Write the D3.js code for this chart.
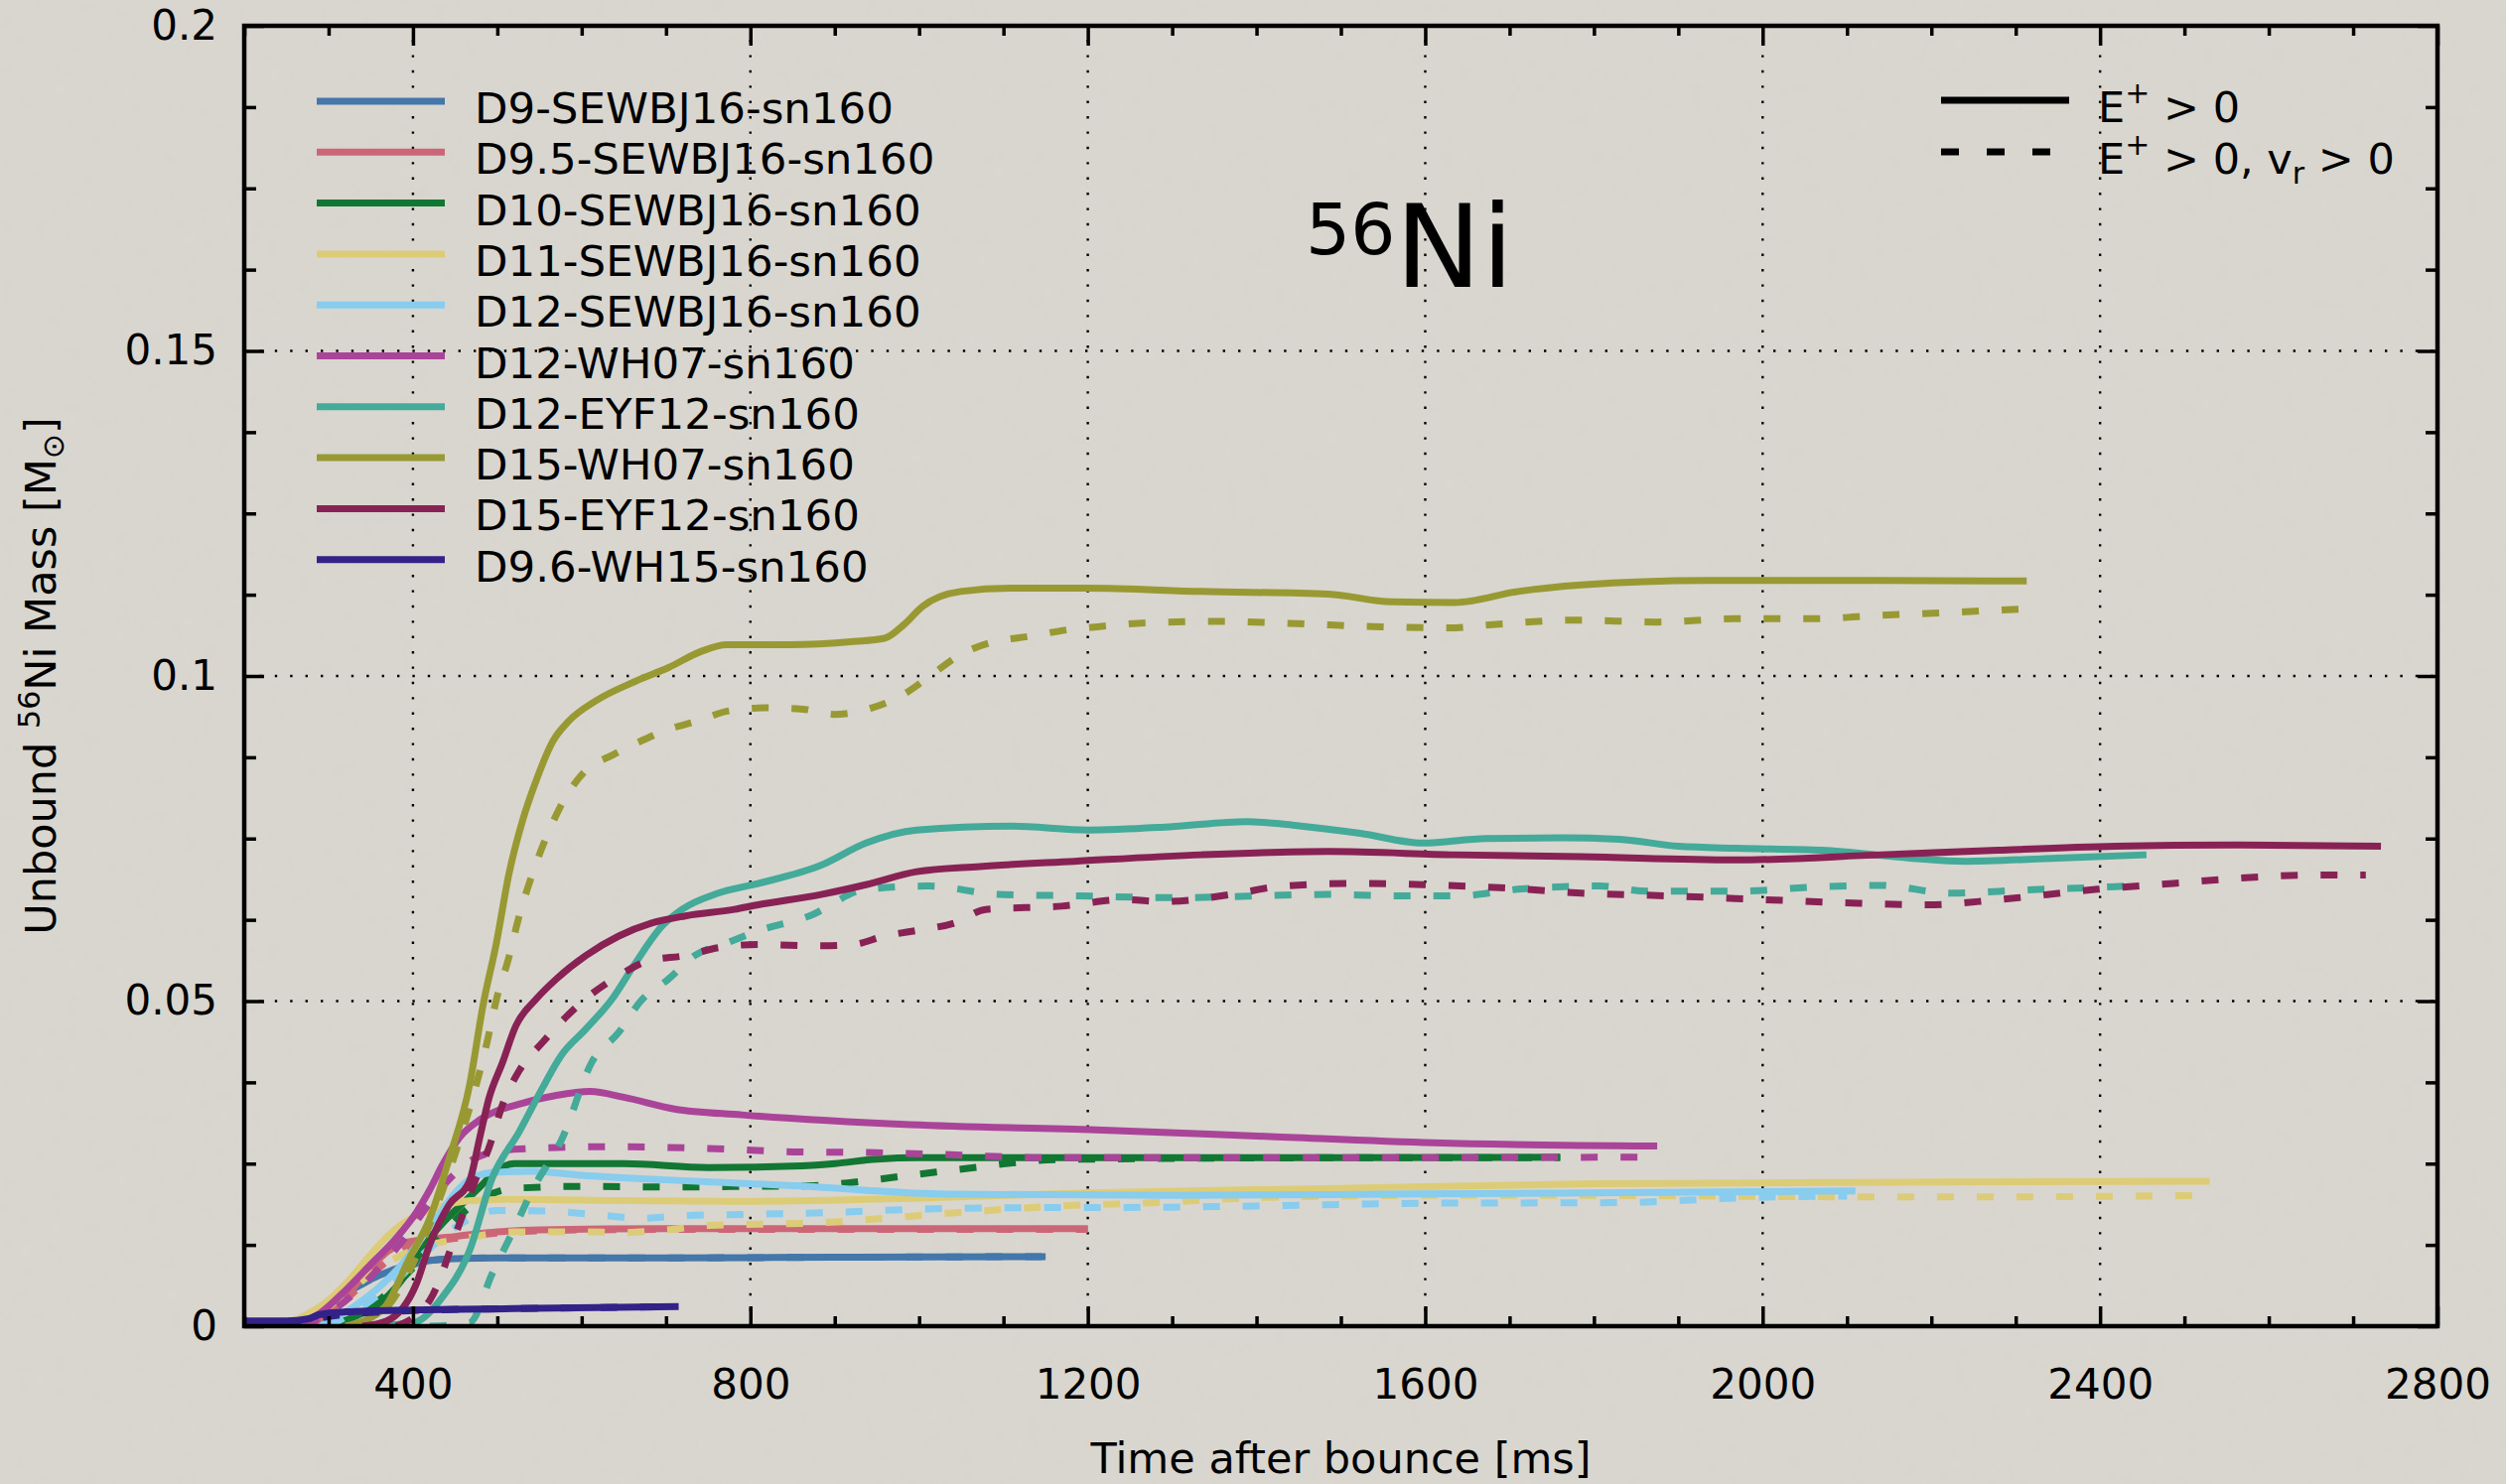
<!DOCTYPE html>
<html lang="en">
<head>
<meta charset="UTF-8">
<title>Unbound 56Ni mass</title>
<script src="https://d3js.org/d3.v7.min.js"></script>
<style>
    html, body { margin: 0; padding: 0; background: #d9d6cf; }
    svg { display: block; }
    text { font-family: "DejaVu Sans", Verdana, sans-serif; fill: #000; }
</style>
</head>
<body>
<svg id="chart" width="2524" height="1495"></svg>
<script>
// ---- data (time after bounce [ms], unbound 56Ni mass [Msun]) ----
const models = ["D9-SEWBJ16-sn160", "D9.5-SEWBJ16-sn160", "D10-SEWBJ16-sn160", "D11-SEWBJ16-sn160",
    "D12-SEWBJ16-sn160", "D12-WH07-sn160", "D12-EYF12-sn160", "D15-WH07-sn160",
    "D15-EYF12-sn160", "D9.6-WH15-sn160"];
const colors = ["#4477aa", "#cc6677", "#117733", "#ddcc77", "#88ccee",
    "#aa4499", "#44aa99", "#999933", "#882255", "#332288"];

const xTicks = [400, 800, 1200, 1600, 2000, 2400, 2800];
const yTicks = [0, 0.05, 0.1, 0.15, 0.2];

const d9Solid = [[250,0],[280,0.0015],[300,0.003],[320,0.005],[340,0.0065],[360,0.0078],[380,0.0088],
    [400,0.0095],[420,0.0101],[450,0.0104],[500,0.0105],[700,0.0105],[900,0.0106],[1150,0.0107]];
const d9Dash = [[250,0],[280,0.0015],[300,0.003],[320,0.005],[340,0.0065],[360,0.0078],[380,0.0088],
    [400,0.0095],[420,0.0101],[450,0.0104],[500,0.0105],[700,0.0105],[900,0.0106],[1150,0.0107]];

const d95Solid = [[270,0],[300,0.002],[330,0.006],[350,0.009],[370,0.0115],[390,0.0128],[420,0.0134],
    [450,0.0138],[500,0.0145],[550,0.0148],[700,0.015],[900,0.015],[1200,0.015]];
const d95Dash = [[280,0],[320,0.004],[360,0.009],[400,0.0125],[450,0.0135],[500,0.0143],[600,0.0148],
    [800,0.0149],[1200,0.0149]];

const d10Solid = [[300,0],[340,0.002],[360,0.0035],[380,0.006],[400,0.0095],[420,0.0135],[440,0.0165],
    [460,0.019],[480,0.0215],[500,0.024],[520,0.025],[650,0.025],[750,0.0244],[850,0.0246],[900,0.025],
    [950,0.0257],[1000,0.0259],[1200,0.0259],[1500,0.0259],[1760,0.026]];
const d10Dash = [[310,0],[350,0.003],[400,0.009],[440,0.015],[480,0.0195],[520,0.0212],[600,0.0215],
    [700,0.0214],[800,0.0215],[870,0.0216],[920,0.0221],[970,0.0229],[1020,0.0237],[1060,0.0243],
    [1110,0.0251],[1160,0.0256],[1300,0.0258],[1500,0.0259],[1760,0.0259]];

const d11Solid = [[240,0],[270,0.0015],[300,0.004],[320,0.0065],[340,0.0095],[360,0.0125],[380,0.015],
    [400,0.0167],[430,0.0183],[470,0.0193],[520,0.0195],[650,0.0193],[800,0.0192],[1000,0.0197],
    [1200,0.0205],[1500,0.0212],[1800,0.0219],[2100,0.0221],[2530,0.0223]];
const d11Dash = [[260,0],[300,0.003],[340,0.007],[380,0.0105],[420,0.0125],[460,0.0135],[520,0.0145],
    [600,0.0145],[650,0.0144],[700,0.0148],[750,0.0155],[880,0.0159],[970,0.0167],[1070,0.0177],
    [1170,0.0185],[1280,0.019],[1410,0.0198],[1610,0.0201],[1800,0.0201],[2100,0.0199],[2300,0.0199],
    [2520,0.0201]];

const d12sSolid = [[290,0],[330,0.003],[360,0.006],[390,0.01],[410,0.0135],[430,0.017],[450,0.0205],
    [470,0.0228],[500,0.0237],[540,0.0238],[600,0.0232],[700,0.0225],[800,0.0219],[870,0.0215],
    [950,0.0208],[1040,0.0203],[1300,0.0201],[1550,0.0203],[1800,0.0205],[2110,0.0208]];
const d12sDash = [[300,0],[340,0.003],[380,0.007],[420,0.012],[460,0.016],[500,0.0178],[560,0.0177],
    [620,0.0171],[670,0.0166],[720,0.017],[800,0.0172],[900,0.0175],[1000,0.018],[1100,0.0182],
    [1300,0.0183],[1450,0.0186],[1600,0.0189],[1830,0.019],[1990,0.0198],[2100,0.02]];

const d12wSolid = [[260,0],[290,0.002],[320,0.0055],[350,0.0095],[380,0.0135],[405,0.0177],[420,0.021],
    [435,0.0248],[455,0.029],[480,0.0318],[530,0.0343],[570,0.0355],[610,0.0361],[650,0.0352],
    [710,0.0334],[790,0.0325],[990,0.031],[1210,0.0302],[1410,0.0292],[1610,0.0282],[1875,0.0277]];
const d12wDash = [[270,0],[300,0.002],[330,0.005],[360,0.009],[390,0.0135],[420,0.019],[450,0.0235],
    [480,0.0262],[520,0.0272],[620,0.0276],[700,0.0275],[780,0.0272],[850,0.0268],[940,0.0267],
    [1030,0.0264],[1150,0.0259],[1400,0.0259],[1875,0.026]];

const d12eSolid = [[340,0],[400,0.0005],[435,0.0045],[467,0.0116],[494,0.0228],[526,0.0299],[553,0.0365],
    [575,0.0415],[605,0.0457],[636,0.0503],[664,0.0559],[695,0.0615],[719,0.0641],[762,0.0666],
    [810,0.0681],[884,0.0709],[937,0.0743],[997,0.0763],[1110,0.0769],[1200,0.0763],[1297,0.0768],
    [1388,0.0776],[1448,0.077],[1523,0.0758],[1597,0.0743],[1672,0.075],[1760,0.0751],[1830,0.0749],
    [1900,0.0738],[1970,0.0735],[2070,0.0732],[2175,0.072],[2240,0.0715],[2350,0.072],[2455,0.0725]];
const d12eDash = [[420,0],[467,0.0005],[494,0.0081],[520,0.015],[541,0.0208],[577,0.0289],[612,0.0406],
    [644,0.0452],[670,0.05],[703,0.0534],[734,0.057],[773,0.059],[809,0.0608],[870,0.0631],[937,0.0672],
    [1012,0.0677],[1094,0.0664],[1185,0.0662],[1297,0.0659],[1485,0.0664],[1560,0.0662],[1640,0.0662],
    [1710,0.0672],[1807,0.0677],[1863,0.0669],[1967,0.0669],[2071,0.0676],[2140,0.0678],[2223,0.0666],
    [2313,0.0671],[2418,0.0676],[2452,0.0678]];

const d15wSolid = [[320,0],[365,0.0027],[396,0.0105],[420,0.0166],[443,0.0258],[467,0.037],[483,0.0493],
    [499,0.059],[514,0.0697],[530,0.0778],[546,0.0839],[566,0.09],[585,0.0931],[617,0.0962],[664,0.0992],
    [703,0.1013],[742,0.1038],[772,0.1048],[847,0.1048],[922,0.1053],[959,0.1058],[982,0.1079],
    [1004,0.1107],[1049,0.113],[1109,0.1135],[1199,0.1135],[1335,0.113],[1485,0.1126],[1560,0.1114],
    [1635,0.1113],[1710,0.113],[1785,0.114],[1933,0.1147],[2140,0.1147],[2313,0.1146]];
const d15wDash = [[330,0],[370,0.003],[420,0.0157],[451,0.0269],[475,0.0371],[487,0.0432],[499,0.0503],
    [513,0.0564],[526,0.0631],[542,0.0697],[560,0.0758],[579,0.0809],[605,0.0855],[636,0.0878],
    [667,0.0898],[703,0.0918],[738,0.0931],[773,0.0946],[817,0.0951],[862,0.0949],[899,0.0941],
    [944,0.0951],[982,0.0972],[1015,0.1002],[1049,0.1033],[1090,0.1053],[1131,0.1061],[1176,0.1071],
    [1214,0.1076],[1259,0.1081],[1349,0.1084],[1439,0.1081],[1537,0.1076],[1627,0.1074],[1680,0.1079],
    [1777,0.1086],[1875,0.1083],[1967,0.1088],[2071,0.1088],[2120,0.1092],[2210,0.1097],[2258,0.11],
    [2313,0.1103]];

const d15eSolid = [[340,0],[369,0.0008],[404,0.0065],[420,0.0126],[443,0.0187],[467,0.0223],[479,0.0289],
    [490,0.035],[506,0.0405],[522,0.0462],[546,0.0503],[570,0.0534],[605,0.057],[644,0.06],[683,0.062],
    [723,0.0631],[781,0.0641],[809,0.0648],[884,0.0664],[937,0.0679],[997,0.0699],[1072,0.0707],
    [1184,0.0715],[1335,0.0725],[1485,0.073],[1635,0.0725],[1785,0.0722],[1967,0.0717],[2140,0.0725],
    [2279,0.0732],[2418,0.0738],[2557,0.074],[2733,0.0738]];
const d15eDash = [[380,0],[420,0.004],[455,0.0157],[475,0.0228],[490,0.0274],[506,0.034],[526,0.0393],
    [554,0.0437],[581,0.0475],[609,0.0508],[644,0.0539],[679,0.0562],[723,0.057],[762,0.0582],
    [809,0.0587],[884,0.0585],[922,0.0587],[959,0.06],[1004,0.061],[1042,0.062],[1079,0.0641],
    [1169,0.0646],[1244,0.0656],[1289,0.0653],[1379,0.0666],[1424,0.0676],[1515,0.0681],[1597,0.0679],
    [1695,0.0674],[1785,0.0666],[1883,0.0662],[2002,0.0656],[2099,0.0651],[2196,0.0648],[2279,0.0656],
    [2397,0.0672],[2487,0.0681],[2564,0.0689],[2654,0.0694],[2715,0.0694]];

const d96Solid = [[200,0.0008],[250,0.0008],[275,0.0011],[290,0.0018],[320,0.0022],[400,0.0025],
    [520,0.0027],[715,0.003]];
const d96Dash = [[200,0],[260,0.0003],[300,0.0015],[400,0.0024],[520,0.0027],[715,0.003]];

const solidRuns = [d9Solid, d95Solid, d10Solid, d11Solid, d12sSolid, d12wSolid, d12eSolid, d15wSolid, d15eSolid, d96Solid];
const dashRuns = [d9Dash, d95Dash, d10Dash, d11Dash, d12sDash, d12wDash, d12eDash, d15wDash, d15eDash, d96Dash];

// ---- layout ----
const plotL = 246, plotR = 2455, plotT = 26, plotB = 1336;
const svg = d3.select("#chart");

const x = d3.scaleLinear().domain([200, 2800]).range([plotL, plotR]);
const y = d3.scaleLinear().domain([0, 0.2]).range([plotB, plotT]);

// background with a faint paper grain
const defs = svg.append("defs");
const grain = defs.append("filter").attr("id", "grain").attr("x", 0).attr("y", 0).attr("width", "100%").attr("height", "100%");
grain.append("feTurbulence").attr("type", "fractalNoise").attr("baseFrequency", 0.06).attr("numOctaves", 3).attr("seed", 3);
grain.append("feColorMatrix").attr("type", "matrix")
    .attr("values", "0 0 0 0 0.55  0 0 0 0 0.53  0 0 0 0 0.50  0 0 0 0.10 0");
defs.append("clipPath").attr("id", "plotclip").append("rect")
    .attr("x", plotL).attr("y", plotT).attr("width", plotR - plotL).attr("height", plotB - plotT);

svg.append("rect").attr("width", 2524).attr("height", 1495).attr("fill", "#dad7d0");
svg.append("rect").attr("width", 2524).attr("height", 1495).attr("filter", "url(#grain)");

// dotted grid at major ticks
const grid = svg.append("g").attr("stroke", "#000").attr("stroke-width", 2.4)
    .attr("stroke-dasharray", "2.4,13");
grid.selectAll("line.gx").data(xTicks.slice(0, -1)).join("line").attr("class", "gx")
    .attr("x1", d => x(d)).attr("x2", d => x(d)).attr("y1", plotB).attr("y2", plotT);
grid.selectAll("line.gy").data(yTicks.slice(1, -1)).join("line").attr("class", "gy")
    .attr("y1", d => y(d)).attr("y2", d => y(d)).attr("x1", plotL).attr("x2", plotR);

// curves
const line = d3.line().x(d => x(d[0])).y(d => y(d[1])).curve(d3.curveMonotoneX);
const curves = svg.append("g").attr("clip-path", "url(#plotclip)")
    .attr("fill", "none").attr("stroke-width", 7);
models.forEach((m, i) => {
    curves.append("path").attr("d", line(solidRuns[i])).attr("stroke", colors[i])
        .attr("stroke-linejoin", "round");
    curves.append("path").attr("d", line(dashRuns[i])).attr("stroke", colors[i])
        .attr("stroke-dasharray", "17,23");
});

// axes: ticks pointing inwards on all four sides
const minorX = d3.range(200, 2801, 100).filter(v => !xTicks.includes(v));
const minorY = d3.range(0, 0.2001, 0.0125).filter(v => !yTicks.some(t => Math.abs(t - v) < 1e-9));

function styleAxis(g) {
    g.select(".domain").remove();
    g.selectAll(".tick line").attr("stroke", "#000").attr("stroke-width", 3.5);
    g.selectAll(".tick text").attr("font-size", 42).attr("fill", "#000")
        .attr("font-family", "DejaVu Sans, Verdana, sans-serif");
}

svg.append("g").attr("transform", `translate(0,${plotB})`)
    .call(d3.axisBottom(x).tickValues(xTicks).tickSize(-20).tickPadding(43).tickFormat(d3.format("d")))
    .call(styleAxis);
svg.append("g").attr("transform", `translate(0,${plotB})`)
    .call(d3.axisBottom(x).tickValues(minorX).tickSize(-10).tickFormat(""))
    .call(styleAxis);
svg.append("g").attr("transform", `translate(0,${plotT})`)
    .call(d3.axisTop(x).tickValues(xTicks).tickSize(-20).tickFormat(""))
    .call(styleAxis);
svg.append("g").attr("transform", `translate(0,${plotT})`)
    .call(d3.axisTop(x).tickValues(minorX).tickSize(-10).tickFormat(""))
    .call(styleAxis);

svg.append("g").attr("transform", `translate(${plotL},0)`)
    .call(d3.axisLeft(y).tickValues(yTicks).tickSize(-20).tickPadding(27).tickFormat(d3.format("~g")))
    .call(styleAxis);
svg.append("g").attr("transform", `translate(${plotL},0)`)
    .call(d3.axisLeft(y).tickValues(minorY).tickSize(-12).tickFormat(""))
    .call(styleAxis);
svg.append("g").attr("transform", `translate(${plotR},0)`)
    .call(d3.axisRight(y).tickValues(yTicks).tickSize(-20).tickFormat(""))
    .call(styleAxis);
svg.append("g").attr("transform", `translate(${plotR},0)`)
    .call(d3.axisRight(y).tickValues(minorY).tickSize(-12).tickFormat(""))
    .call(styleAxis);

// frame
svg.append("rect").attr("x", plotL).attr("y", plotT).attr("width", plotR - plotL).attr("height", plotB - plotT)
    .attr("fill", "none").attr("stroke", "#000").attr("stroke-width", 4.5);

// axis titles
svg.append("text").attr("x", (plotL + plotR) / 2).attr("y", 1484).attr("text-anchor", "middle")
    .attr("font-size", 43).text("Time after bounce [ms]");

const yTitle = svg.append("text").attr("text-anchor", "middle").attr("font-size", 43)
    .attr("transform", `translate(56,${(plotT + plotB) / 2}) rotate(-90)`);
yTitle.append("tspan").text("Unbound ");
yTitle.append("tspan").attr("font-size", 30).attr("dy", -16).text("56");
yTitle.append("tspan").attr("dy", 16).text("Ni Mass [M");
yTitle.append("tspan").attr("font-size", 30).attr("dy", 8).text("\u2299");
yTitle.append("tspan").attr("dy", -8).text("]");

// isotope label
const iso = svg.append("text").attr("x", 1315).attr("y", 289)
    .attr("font-family", "Liberation Sans, Arial, sans-serif");
iso.append("tspan").attr("font-size", 71).attr("dy", -33).text("56");
iso.append("tspan").attr("font-size", 116).attr("dy", 33).text("Ni");

// model legend
const legend = svg.append("g");
models.forEach((m, i) => {
    const ly = 102 + i * 51.3;
    legend.append("line").attr("x1", 319).attr("x2", 448).attr("y1", ly).attr("y2", ly)
        .attr("stroke", colors[i]).attr("stroke-width", 7);
    legend.append("text").attr("x", 478).attr("y", ly + 22)
        .attr("font-size", 43.5).text(m);
});

// line-style legend
const styleLegend = svg.append("g");
styleLegend.append("line").attr("x1", 1955).attr("x2", 2084).attr("y1", 101).attr("y2", 101)
    .attr("stroke", "#000").attr("stroke-width", 7);
styleLegend.append("line").attr("x1", 1955).attr("x2", 2084).attr("y1", 153).attr("y2", 153)
    .attr("stroke", "#000").attr("stroke-width", 7).attr("stroke-dasharray", "18,28");
const s1 = styleLegend.append("text").attr("x", 2113).attr("y", 123).attr("font-size", 43);
s1.append("tspan").text("E");
s1.append("tspan").attr("font-size", 30).attr("dy", -19).text("+");
s1.append("tspan").attr("dy", 19).text(" > 0");
const s2 = styleLegend.append("text").attr("x", 2113).attr("y", 175).attr("font-size", 43);
s2.append("tspan").text("E");
s2.append("tspan").attr("font-size", 30).attr("dy", -19).text("+");
s2.append("tspan").attr("dy", 19).text(" > 0, v");
s2.append("tspan").attr("font-size", 30).attr("dy", 10).text("r");
s2.append("tspan").attr("dy", -10).text(" > 0");
</script>
</body>
</html>
